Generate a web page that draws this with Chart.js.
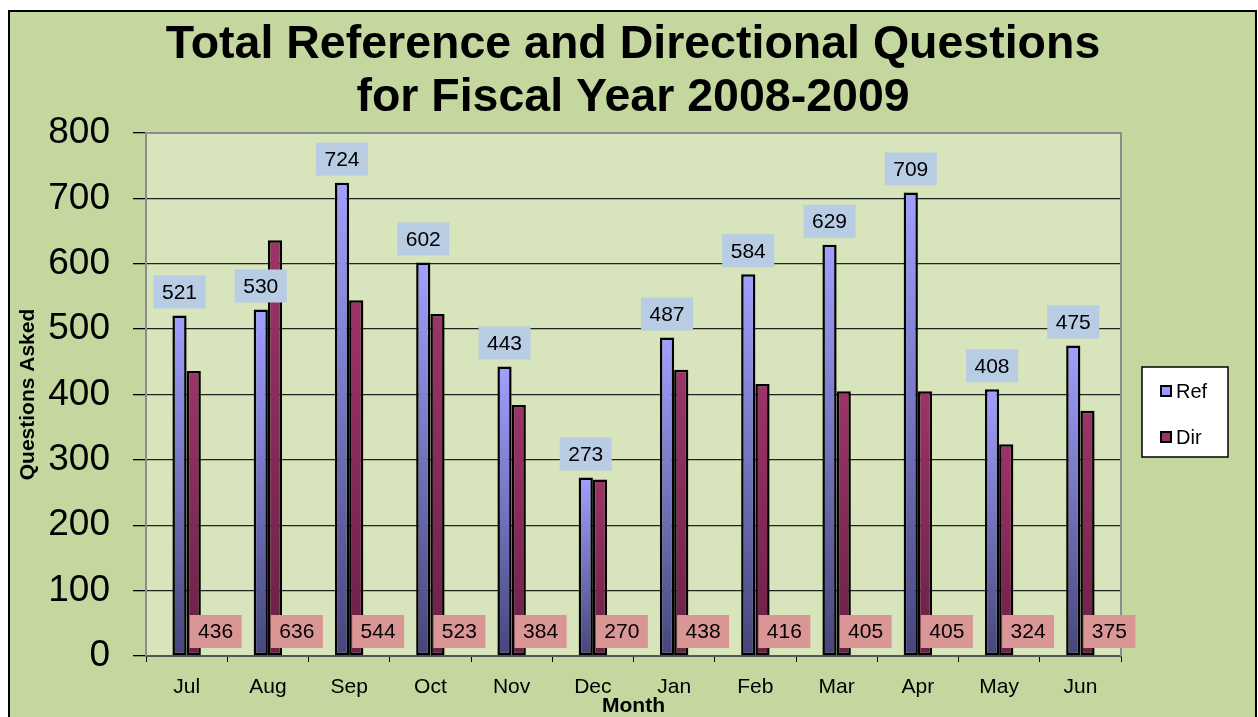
<!DOCTYPE html>
<html>
<head>
<meta charset="utf-8">
<title>Total Reference and Directional Questions</title>
<script src="https://cdn.jsdelivr.net/npm/chart.js@4.4.1/dist/chart.umd.min.js"></script>
<style>
  html, body { margin: 0; padding: 0; background: #fff; }
  #wrap { width: 1258px; height: 717px; }
</style>
</head>
<body>
<div id="wrap"><canvas id="canvas"></canvas></div>
<script>
const months = ['Jul', 'Aug', 'Sep', 'Oct', 'Nov', 'Dec', 'Jan', 'Feb', 'Mar', 'Apr', 'May', 'Jun'];
const refCounts = [521, 530, 724, 602, 443, 273, 487, 584, 629, 709, 408, 475];
const dirCounts = [436, 636, 544, 523, 384, 270, 438, 416, 405, 405, 324, 375];
const titleLines = ['Total Reference and Directional Questions', 'for Fiscal Year 2008-2009'];
const yMin = 0;
const yMax = 800;
const yStep = 100;

const FONT = "'Liberation Sans', Arial, sans-serif";

// vertical shading per bar: light at the top, dark at the base
const barFill = (top, bottom) => (ctx) => {
    const chart = ctx.chart;
    if (!chart.chartArea || ctx.type !== 'data') return top;
    const y = chart.scales.y;
    const g = chart.ctx.createLinearGradient(0, y.getPixelForValue(ctx.raw), 0, y.getPixelForValue(0));
    g.addColorStop(0, top);
    g.addColorStop(1, bottom);
    return g;
};

// green card behind everything, plot background, centred title
const backdrop = {
    id: 'backdrop',
    beforeDraw(chart) {
        const { ctx, chartArea: a } = chart;
        ctx.save();
        ctx.fillStyle = '#ffffff';
        ctx.fillRect(0, 0, chart.width, chart.height);
        ctx.fillStyle = '#c4d79f';
        ctx.fillRect(9, 11, chart.width - 10, chart.height - 10);
        ctx.strokeStyle = '#000';
        ctx.lineWidth = 2;
        ctx.strokeRect(9, 11, chart.width - 11, chart.height);
        ctx.fillStyle = '#d8e4bc';
        ctx.fillRect(a.left, a.top, a.right - a.left, a.bottom - a.top);

        ctx.fillStyle = '#000';
        ctx.font = 'bold 46.5px ' + FONT;
        ctx.textAlign = 'center';
        ctx.textBaseline = 'middle';
        titleLines.forEach((line, i) => ctx.fillText(line, 633, 45 + i * 53));
        ctx.restore();
    },
    beforeDatasetsDraw(chart) {
        const { ctx, chartArea: a } = chart;
        ctx.save();
        ctx.strokeStyle = '#8c8c8c';
        ctx.lineWidth = 2;
        ctx.beginPath();
        ctx.moveTo(a.left, a.top);
        ctx.lineTo(a.right, a.top);
        ctx.lineTo(a.right, a.bottom);
        ctx.stroke();
        ctx.restore();
    }
};

// value boxes: Ref above each bar, Dir along the base
const valueLabels = {
    id: 'valueLabels',
    afterDatasetsDraw(chart) {
        const { ctx } = chart;
        const yScale = chart.scales.y;
        const xScale = chart.scales.x;
        const base = yScale.getPixelForValue(0);
        const box = (cx, bottom, text, fill) => {
            const w = 52, h = 33;
            ctx.fillStyle = fill;
            ctx.fillRect(cx - w / 2, bottom - h, w, h);
            ctx.fillStyle = '#000';
            ctx.fillText(text, cx, bottom - h / 2 + 1);
        };
        ctx.save();
        ctx.font = '21px ' + FONT;
        ctx.textAlign = 'center';
        ctx.textBaseline = 'middle';
        chart.getDatasetMeta(0).data.forEach((bar, i) => {
            box(bar.x, bar.y - 7, String(refCounts[i]), '#b8cce4');
        });
        chart.getDatasetMeta(1).data.forEach((bar, i) => {
            box(xScale.getPixelForValue(i) + 29, base - 8, String(dirCounts[i]), '#da9694');
        });
        ctx.restore();
    }
};

// boxed legend on the right
const sideLegend = {
    id: 'sideLegend',
    afterDraw(chart) {
        const { ctx } = chart;
        ctx.save();
        ctx.fillStyle = '#fff';
        ctx.fillRect(1142, 367, 86, 90);
        ctx.strokeStyle = '#000';
        ctx.lineWidth = 1.5;
        ctx.strokeRect(1142, 367, 86, 90);
        const items = [['Ref', '#9999ff', 391], ['Dir', '#993366', 437]];
        ctx.font = '20px ' + FONT;
        ctx.textBaseline = 'middle';
        ctx.textAlign = 'left';
        items.forEach(([label, color, cy]) => {
            ctx.fillStyle = color;
            ctx.fillRect(1161, cy - 5, 10, 10);
            ctx.lineWidth = 2;
            ctx.strokeStyle = '#000';
            ctx.strokeRect(1161, cy - 5, 10, 10);
            ctx.fillStyle = '#000';
            ctx.fillText(label, 1176, cy + 1);
        });
        ctx.restore();
    }
};

new Chart(document.getElementById('canvas'), {
    type: 'bar',
    data: {
        labels: months,
        datasets: [{
            label: 'Ref',
            data: refCounts,
            backgroundColor: barFill('#a0a0ff', '#46467c'),
            borderColor: '#000',
            borderWidth: 2.5,
            borderSkipped: false,
            categoryPercentage: 0.35,
            barPercentage: 1
        }, {
            label: 'Dir',
            data: dirCounts,
            backgroundColor: barFill('#9c3468', '#6a2046'),
            borderColor: '#000',
            borderWidth: 2.5,
            borderSkipped: false,
            categoryPercentage: 0.35,
            barPercentage: 1
        }]
    },
    options: {
        responsive: true,
        maintainAspectRatio: false,
        animation: false,
        events: [],
        layout: { padding: { left: 12, right: 137, top: 133, bottom: 0 } },
        plugins: {
            legend: { display: false },
            tooltip: { enabled: false },
            title: { display: false }
        },
        scales: {
            x: {
                grid: { drawOnChartArea: false, color: '#000', tickLength: 6, offset: true },
                border: { display: true, color: '#555', width: 2 },
                ticks: { color: '#000', font: { family: FONT, size: 21 }, padding: 13, maxRotation: 0 },
                title: {
                    display: true,
                    text: 'Month',
                    color: '#000',
                    font: { family: FONT, size: 21, weight: 'bold', lineHeight: 1 },
                    padding: 0
                },
                afterFit(scale) { scale.height = 61; }
            },
            y: {
                min: yMin,
                max: yMax,
                grid: { color: '#222', lineWidth: 1.3, tickLength: 13, tickColor: '#000' },
                border: { display: true, color: '#8c8c8c', width: 2 },
                ticks: { stepSize: yStep, color: '#000', font: { family: FONT, size: 37 }, padding: 23 },
                title: {
                    display: true,
                    text: 'Questions Asked',
                    color: '#000',
                    font: { family: FONT, size: 21, weight: 'bold', lineHeight: 1.2 },
                    padding: 4
                },
                afterFit(scale) { scale.width = 134; }
            }
        }
    },
    plugins: [backdrop, valueLabels, sideLegend]
});
</script>
</body>
</html>
